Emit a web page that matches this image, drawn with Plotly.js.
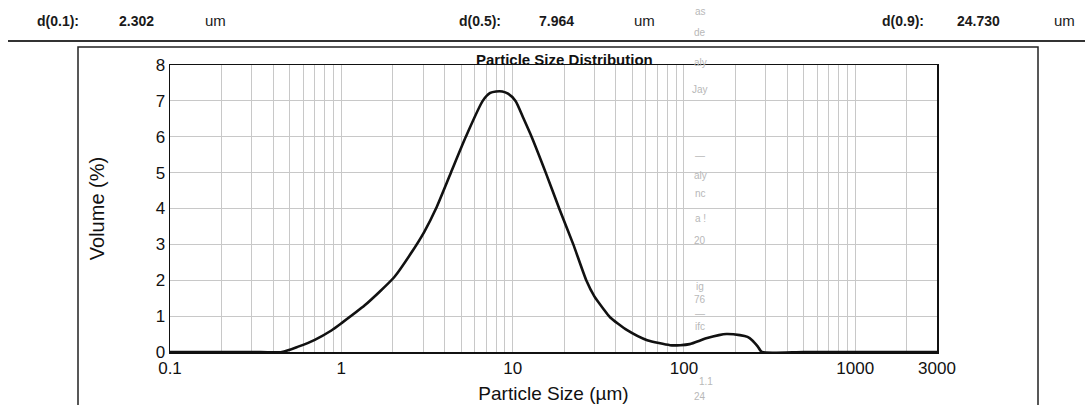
<!DOCTYPE html>
<html>
<head>
<meta charset="utf-8">
<script src="https://cdn.plot.ly/plotly-3.0.1.min.js"></script>
<style>
  html, body { margin: 0; padding: 0; background: #fff; }
  #chart { width: 1085px; height: 405px; }
</style>
</head>
<body>
<div id="chart"></div>
<script>
// ---- Data ----
const particleSizes = [0.1, 0.3, 0.45, 0.56, 0.7, 0.875, 1.0, 1.37, 2.04, 2.55, 3.05, 3.57, 4.36, 5.33, 6.69, 7.4, 8.0, 8.7, 9.4, 10.4, 11.6, 12.9, 15.6, 18.7, 22.6, 26.9, 30, 33.9, 37, 46.6, 61, 83, 95, 108, 135, 160, 177, 212, 235, 250, 270, 285, 500, 1000, 3000];
const volumePercent = [0, 0, 0, 0.15, 0.34, 0.6, 0.8, 1.3, 2.09, 2.75, 3.35, 4.0, 5.0, 6.0, 7.0, 7.22, 7.26, 7.26, 7.2, 7.0, 6.5, 6.0, 5.0, 4.0, 3.0, 2.0, 1.55, 1.2, 0.97, 0.61, 0.33, 0.19, 0.19, 0.22, 0.38, 0.47, 0.5, 0.47, 0.42, 0.33, 0.15, 0, 0, 0, 0];

const xTickVals = [0.1, 1, 10, 100, 1000, 3000];
const xTickText = ["0.1", "1", "10", "100", "1000", "3000"];
const xMinorVals = [0.2,0.3,0.4,0.5,0.6,0.7,0.8,0.9, 2,3,4,5,6,7,8,9, 20,30,40,50,60,70,80,90, 200,300,400,500,600,700,800,900, 2000];
const yTickVals = [0, 1, 2, 3, 4, 5, 6, 7, 8];

const headerLabels = ["d(0.1):", "d(0.5):", "d(0.9):"];
const headerValues = ["2.302", "7.964", "24.730"];
const headerUnit = "um";

const chartTitle = "Particle Size Distribution";
const xTitle = "Particle Size (µm)";
const yTitle = "Volume (%)";

const bleedTexts = ["as", "de", "aly", "Jay", "—", "aly", "nc", "a !", "20", "ig", "76", "—", "ifc", "1.1", "24"];

// ---- Layout geometry (pixels) ----
const W = 1085, H = 405;
const PL = 170, PR = 937, PT = 65, PB = 352;
const pw = PR - PL, ph = PB - PT;
const px = x => (x - PL) / pw;
const py = y => (PB - y) / ph;

const FONT = "Liberation Sans, Arial, sans-serif";

const trace = {
  x: particleSizes,
  y: volumePercent,
  type: "scatter",
  mode: "lines",
  line: { color: "#111", width: 2.6, shape: "spline", smoothing: 0.6 },
  hoverinfo: "x+y"
};

const annotations = [];
// header
const headerLabelX = [35, 457, 880];
const headerValueX = [117, 537, 955];
const headerUnitX = [203, 632, 1052];
for (let i = 0; i < headerLabels.length; i++) {
  const f = { family: FONT, size: 14, color: "#1a1a1a" };
  annotations.push({ text: "<b>" + headerLabels[i] + "</b>", x: px(headerLabelX[i]), y: py(21), xref: "paper", yref: "paper", xanchor: "left", yanchor: "middle", showarrow: false, font: f });
  annotations.push({ text: "<b>" + headerValues[i] + "</b>", x: px(headerValueX[i]), y: py(21), xref: "paper", yref: "paper", xanchor: "left", yanchor: "middle", showarrow: false, font: f });
  annotations.push({ text: headerUnit, x: px(headerUnitX[i]), y: py(21), xref: "paper", yref: "paper", xanchor: "left", yanchor: "middle", showarrow: false, font: { family: FONT, size: 15, color: "#1a1a1a" } });
}
// chart title
annotations.push({ text: "<b>" + chartTitle + "</b>", x: px(564), y: py(60), xref: "paper", yref: "paper", xanchor: "center", yanchor: "middle", showarrow: false, font: { family: FONT, size: 15, color: "#111" } });
// faint bleed-through text
const bleedY = [12, 32, 62, 90, 155, 175, 193, 218, 240, 286, 299, 313, 326, 381, 396];
const bleedX = [700, 700, 700, 700, 700, 700, 700, 700, 700, 700, 700, 700, 700, 706, 700];
for (let i = 0; i < bleedTexts.length; i++) {
  annotations.push({ text: bleedTexts[i], x: px(bleedX[i]), y: py(bleedY[i]), xref: "paper", yref: "paper", xanchor: "center", yanchor: "middle", showarrow: false, font: { family: FONT, size: 10, color: "#b8b8b8" } });
}

const shapes = [
  // header rule
  { type: "line", xref: "paper", yref: "paper", x0: px(8), x1: px(1085), y0: py(41), y1: py(41), line: { color: "#333", width: 2 } },
  // outer frame
  { type: "rect", xref: "paper", yref: "paper", x0: px(78), x1: px(1038), y0: py(47), y1: py(420), line: { color: "#222", width: 1.5 }, fillcolor: "rgba(0,0,0,0)", layer: "below" }
];

const layout = {
  width: W, height: H,
  margin: { l: PL, r: W - PR, t: PT, b: H - PB, pad: 0 },
  paper_bgcolor: "#fff",
  plot_bgcolor: "#fff",
  showlegend: false,
  font: { family: FONT, color: "#111" },
  xaxis: {
    type: "log",
    range: [Math.log10(0.1), Math.log10(3000)],
    tickmode: "array",
    tickvals: xTickVals,
    ticktext: xTickText,
    ticks: "",
    tickfont: { family: FONT, size: 17, color: "#111" },
    showgrid: true,
    gridcolor: "#c8c8c8",
    gridwidth: 1,
    minor: { tickmode: "array", tickvals: xMinorVals, showgrid: true, gridcolor: "#c8c8c8", gridwidth: 1, ticks: "" },
    showline: true, linecolor: "#111", linewidth: 1.5, mirror: true,
    zeroline: false,
    title: { text: xTitle, font: { family: FONT, size: 19, color: "#111" }, standoff: 10 },
    automargin: false
  },
  yaxis: {
    range: [0, 8],
    tickmode: "array",
    tickvals: yTickVals,
    ticks: "",
    tickfont: { family: FONT, size: 17, color: "#111" },
    showgrid: true,
    gridcolor: "#c8c8c8",
    gridwidth: 1,
    showline: true, linecolor: "#111", linewidth: 1.5, mirror: true,
    zeroline: false,
    title: { text: yTitle, font: { family: FONT, size: 20, color: "#111" }, standoff: 45 },
    automargin: false
  },
  annotations: annotations,
  shapes: shapes
};

Plotly.newPlot("chart", [trace], layout, { displayModeBar: false, staticPlot: true });
</script>
</body>
</html>
